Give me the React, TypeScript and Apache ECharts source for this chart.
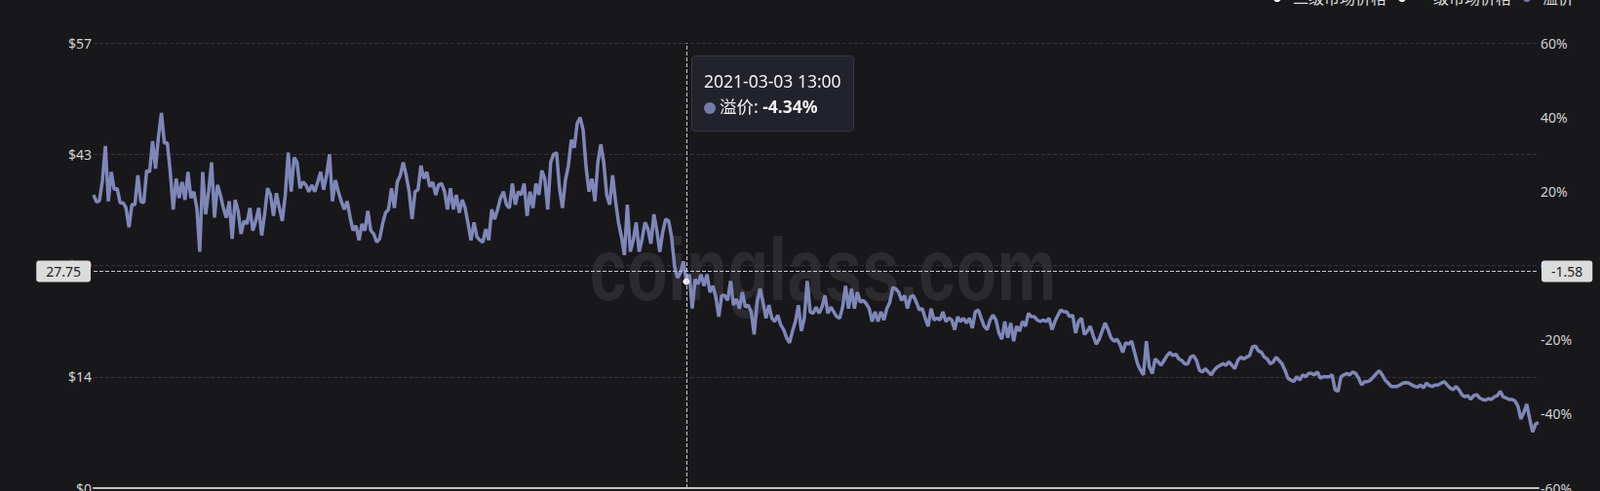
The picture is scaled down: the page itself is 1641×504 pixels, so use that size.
import React, { useEffect, useRef } from "react";
import * as echarts from "echarts";

// 溢价 (premium, %), one value per day
const premium: number[] = [
  19.0, 17.1, 17.5, 23.0, 32.2, 17.3, 25.2, 20.4, 20.8, 16.9,
  16.9, 15.5, 10.3, 16.4, 16.4, 24.3, 17.3, 16.9, 25.6, 25.2,
  33.5, 26.1, 34.8, 41.1, 33.0, 33.0, 25.2, 15.1, 23.4, 18.2,
  22.5, 17.7, 25.2, 18.2, 19.9, 15.5, 3.7, 25.2, 13.8, 19.9,
  27.8, 12.9, 21.7, 19.0, 15.5, 12.9, 17.3, 7.2, 17.7, 14.7,
  8.5, 12.0, 11.2, 15.5, 9.4, 12.0, 15.5, 8.1, 13.8, 20.8,
  19.0, 13.4, 19.5, 15.5, 12.0, 19.0, 30.4, 19.9, 29.1, 27.8,
  20.8, 22.5, 21.7, 19.9, 21.7, 19.9, 22.5, 25.2, 20.4, 24.3,
  30.0, 17.3, 23.0, 19.9, 17.3, 15.1, 17.3, 12.9, 9.4, 10.7,
  6.8, 11.2, 9.4, 14.7, 9.4, 8.5, 6.3, 7.2, 11.2, 14.2,
  15.1, 20.8, 15.5, 22.5, 24.3, 27.8, 24.3, 19.9, 12.5, 19.9,
  20.4, 26.9, 23.4, 25.2, 21.2, 22.5, 19.0, 21.7, 22.1, 19.9,
  15.1, 20.8, 15.1, 19.0, 14.2, 17.7,
  15.5, 11.2, 6.8, 11.6, 7.7, 6.8, 6.3, 9.8, 6.8, 15.1,
  12.5, 15.1, 18.2, 19.9, 16.4, 15.5, 22.1, 16.4, 19.9, 19.0,
  22.1, 13.4, 19.9, 15.5, 22.1, 19.0, 25.6, 23.4, 15.1, 27.8,
  30.0, 30.4, 20.8, 15.5, 23.0, 26.9, 33.9, 31.7, 38.3, 39.9,
  36.5, 26.5, 19.9, 23.4, 17.3, 27.8, 32.6, 27.8, 19.0, 16.4,
  24.3, 17.3, 11.6, 7.7, 2.8, 16.4, 3.7, 6.8, 11.6, 3.7,
  7.2, 11.6, 9.8, 5.9, 13.8, 9.4, 3.7, 9.0, 12.5, 12.0,
  7.7, -0.2, -3.3, -2.0, 1.1,
  -4.34,
  -2.4, -11.6, -3.7, -5.0, -2.4, -5.5, -2.4, -7.2, -5.5, -8.5,
  -13.8, -8.1, -8.1, -9.4, -4.2, -10.7, -9.0, -11.6, -7.2, -11.2,
  -10.7, -12.5, -18.6, -9.9, -6.3, -9.9, -14.2, -10.7, -14.2, -15.1,
  -13.4, -16.0, -17.3, -19.5, -20.8, -17.7, -15.1, -10.7, -17.7, -14.2,
  -4.2, -12.5, -12.9, -11.2,
  -12.9, -11.2, -8.1, -12.9, -11.2, -12.5, -13.8, -14.2, -11.2, -5.5,
  -11.6, -6.3, -11.6, -7.2, -9.9, -9.4, -10.3, -11.6, -15.1, -12.5,
  -15.1, -12.5, -14.7, -11.6, -9.9, -5.9, -6.3, -7.2, -9.4, -8.1,
  -11.6, -8.5, -8.1, -9.9, -12.0, -11.6, -14.2, -16.4, -11.6, -14.7,
  -14.2, -14.7, -12.5, -15.1, -14.2, -14.7, -17.3, -13.8, -15.1, -14.2,
  -15.5, -14.2, -16.9, -12.5, -12.0, -14.2, -16.4, -17.3, -14.7, -13.4,
  -14.7, -18.2, -19.9, -15.1, -19.5, -15.5, -20.4, -16.4, -17.7, -15.1,
  -16.4, -12.9, -13.8, -13.8, -14.7, -15.1, -14.7, -15.1, -14.2, -17.3,
  -15.1, -13.4, -12.0, -12.5, -12.5, -13.8, -13.4, -18.2, -15.1, -14.2,
  -18.6, -17.7, -16.4, -19.0, -21.2, -19.9, -17.7, -15.5, -17.3, -19.5,
  -20.4, -19.9, -21.2, -23.4, -20.8, -21.2, -20.4, -23.4, -26.5, -28.2,
  -29.5, -20.4, -27.4, -29.1, -25.2, -26.0, -26.9, -25.6, -24.3, -23.4,
  -24.3, -23.9, -25.2, -25.6,
  -26.5, -26.5, -24.7, -24.3, -25.6, -28.2, -28.7, -27.8, -28.7, -29.5,
  -28.2, -27.4, -26.9, -26.5, -26.9, -26.0, -26.9, -27.8, -25.6, -24.7,
  -25.2, -24.7, -24.3, -21.9, -21.7, -23.0, -23.4, -24.7, -25.2, -26.5,
  -26.0, -24.7, -25.6, -26.5, -28.2, -30.4, -30.9, -31.3, -30.0, -30.9,
  -29.5, -30.0, -29.1, -29.1, -29.5, -28.7, -30.4, -30.0, -30.0, -30.0,
  -29.5, -33.5, -33.9, -30.0, -29.5, -29.1, -29.5, -28.7, -29.1, -30.4,
  -32.2, -31.3, -31.3, -30.9, -30.0, -29.1, -28.4, -29.5, -30.9, -31.7,
  -32.6, -32.6, -32.6, -32.2, -31.7, -31.6, -31.7, -32.2, -32.6, -32.8,
  -32.2, -33.0, -31.7, -32.4, -32.6, -32.2, -32.2, -31.7, -31.3, -32.2,
  -33.0, -33.5, -32.6, -33.5, -34.8, -35.4, -35.1, -36.1, -35.1, -34.8,
  -35.7, -36.1, -36.3, -35.9, -36.1, -35.4, -35.1, -33.9, -35.4, -35.7,
  -36.1, -36.1, -36.5, -37.9, -41.4, -39.6, -37.4, -41.4, -44.9, -42.7,
  -42.4,
];

// Daily categories, 13:00 each day
const startDate = "2020-08-14";
const pad = (n: number) => (n < 10 ? "0" + n : "" + n);
const categories: string[] = premium.map((_, i) => {
  const [y, m, d] = startDate.split("-").map(Number);
  const dt = new Date(Date.UTC(y, m - 1, d + i));
  return `${dt.getUTCFullYear()}-${pad(dt.getUTCMonth() + 1)}-${pad(dt.getUTCDate())} 13:00`;
});

const legendNames = ["二级市场价格", "一级市场价格", "溢价"];
const priceMin = 0;
const priceMax = 57;
const priceInterval = 14.25;
const premiumMin = -60;
const premiumMax = 60;
const premiumInterval = 20;

// hovered point shown in the reference
const hoverDate = "2021-03-03 13:00";
const hoverPremiumAxisValue = -1.58;

const LINE_COLOR = "#747ba9";
const FONT = '"Noto Sans", "Noto Sans CJK SC", sans-serif';

export default function App() {
  const ref = useRef<HTMLDivElement>(null);

  useEffect(() => {
    if (!ref.current) return;
    const chart = echarts.init(ref.current, undefined, { renderer: "svg" });
    const option: any = {
      animation: false,
      backgroundColor: "#18181b",
      textStyle: { fontFamily: FONT },
      grid: {
        left: 96,
        right: 63,
        top: 44,
        bottom: 3,
        containLabel: false,
        outerBoundsMode: "none",
      },
      legend: {
        data: legendNames.map((n) => ({ name: n, icon: "circle" })),
        top: -15,
        right: 22,
        itemWidth: 22,
        itemHeight: 8,
        itemGap: 12,
        textStyle: { color: "#dddddd", fontSize: 16, fontFamily: FONT },
      },
      graphic: [
        {
          type: "text",
          x: 844,
          y: 276,
          scaleY: 1.33,
          z: -10,
          silent: true,
          style: {
            text: "coinglass.com",
            fontSize: 69,
            fontWeight: "bold",
            fontFamily: '"Liberation Sans", Arial, sans-serif',
            fill: "#2b2b2f",
            align: "center",
            verticalAlign: "middle",
            textAlign: "center",
            textVerticalAlign: "middle",
          },
        },
      ],
      tooltip: {
        trigger: "axis",
        alwaysShowContent: true,
        backgroundColor: "#21222c",
        borderColor: "#373846",
        borderWidth: 1,
        padding: [12, 12],
        extraCssText: "border-radius:4px;box-shadow:none;",
        position: (point: number[]) => [point[0] + 5, 57],
        axisPointer: {
          type: "cross",
          crossStyle: { color: "#c8c8c8", type: "dashed", width: 1 },
          lineStyle: { color: "#c8c8c8", type: "dashed", width: 1 },
          label: {
            backgroundColor: "#dcdcdc",
            color: "#222",
            fontSize: 14,
            padding: [4, 10],
            borderRadius: 3,
            margin: 3,
            fontFamily: FONT,
            formatter: (p: any) => Number(p.value).toFixed(2),
          },
        },
        formatter: (params: any) => {
          const list = Array.isArray(params) ? params : [params];
          const p = list.find((q: any) => q.seriesName === "溢价");
          if (!p) return "";
          const ff = FONT.replace(/"/g, "'");
          return (
            `<div style="font-family:${ff};font-size:17.5px;line-height:26px;color:#f2f2f2">${p.axisValue}</div>` +
            `<div style="font-family:${ff};font-size:17.5px;line-height:26px;color:#f2f2f2">` +
            `<span style="display:inline-block;width:12px;height:12px;border-radius:50%;background:${LINE_COLOR};margin-right:4px;vertical-align:-1px"></span>` +
            `溢价: <b>${Number(p.value).toFixed(2)}%</b></div>`
          );
        },
      },
      xAxis: {
        type: "category",
        data: categories,
        boundaryGap: false,
        axisLine: { onZero: false, lineStyle: { color: "#c4c4c4", width: 2 } },
        axisTick: { show: false },
        axisLabel: { show: false },
        splitLine: { show: false },
        axisPointer: { label: { show: false } },
      },
      yAxis: [
        {
          type: "value",
          min: priceMin,
          max: priceMax,
          interval: priceInterval,
          position: "left",
          axisLine: { show: false },
          axisTick: { show: false },
          axisLabel: {
            color: "#d2d2d2",
            fontSize: 14,
            margin: 2,
            formatter: (v: number) => "$" + Math.round(v),
          },
          splitLine: { lineStyle: { color: "#333338", type: "dashed" } },
        },
        {
          type: "value",
          min: premiumMin,
          max: premiumMax,
          interval: premiumInterval,
          position: "right",
          axisLine: { show: false },
          axisTick: { show: false },
          axisLabel: {
            color: "#d2d2d2",
            fontSize: 14,
            margin: 2,
            formatter: (v: number) => v + "%",
          },
          splitLine: { show: false },
        },
      ],
      series: [
        {
          name: "二级市场价格",
          type: "line",
          yAxisIndex: 0,
          data: [],
          color: "#ffffff",
          showSymbol: false,
        },
        {
          name: "一级市场价格",
          type: "line",
          yAxisIndex: 0,
          data: [],
          color: "#f0f0f0",
          showSymbol: false,
        },
        {
          name: "溢价",
          type: "line",
          yAxisIndex: 1,
          data: premium,
          color: LINE_COLOR,
          showSymbol: false,
          symbol: "circle",
          symbolSize: 6,
          lineStyle: { width: 3.5, color: LINE_COLOR },
          itemStyle: { color: LINE_COLOR },
          emphasis: {
            scale: false,
            lineStyle: { width: 3.5 },
            itemStyle: { color: "#ffffff", borderColor: "#ffffff" },
          },
          z: 3,
        },
      ],
    };
    chart.setOption(option);

    const show = () => {
      const idx = categories.indexOf(hoverDate);
      const x = chart.convertToPixel({ xAxisIndex: 0 }, idx) as number;
      const y = chart.convertToPixel({ yAxisIndex: 1 }, hoverPremiumAxisValue) as number;
      chart.dispatchAction({ type: "showTip", x, y });
    };
    show();
    const t = setTimeout(show, 50);

    return () => {
      clearTimeout(t);
      chart.dispose();
    };
  }, []);

  return (
    <div
      ref={ref}
      style={{ position: "absolute", left: 0, top: 0, width: 1641, height: 504 }}
    />
  );
}
